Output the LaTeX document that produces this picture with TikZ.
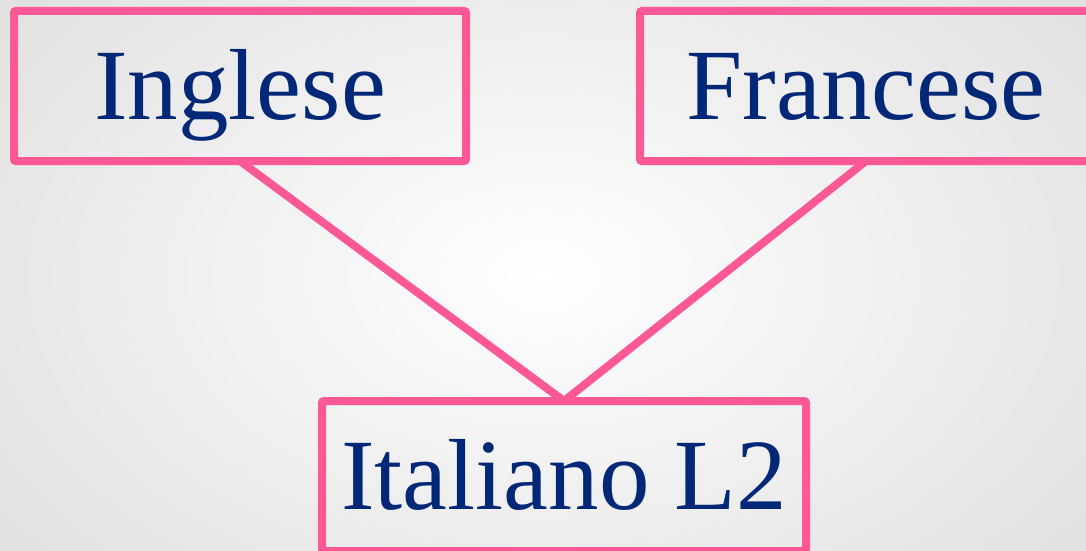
\documentclass[tikz,border=0pt]{standalone}
\usepackage{fontspec}
\setmainfont{Liberation Serif}
\definecolor{boxpink}{RGB}{255,88,150}
\definecolor{labelnavy}{RGB}{0,40,118}
\definecolor{bgedge}{RGB}{226,226,226}
\tikzset{
  langbox/.style={draw=boxpink, line width=8pt, rounded corners=2pt,
    inner sep=0pt, outer sep=0pt, minimum height=150pt,
    text=labelnavy, font=\fontsize{101}{120}\selectfont,
    text height=66pt, text depth=0pt},
  link/.style={draw=boxpink, line width=8pt}
}
\begin{document}
\begin{tikzpicture}[x=1pt,y=-1pt]
  \useasboundingbox (0,0) rectangle (1086,551);
  \clip (0,0) rectangle (1086,551);
  % soft radial background
  \shade[inner color=white, outer color=bgedge] (-120,-150) rectangle (1206,701);

  \node[langbox, minimum width=452pt] (ing) at (240,86) {Inglese};
  \node[langbox, minimum width=452pt] (fra) at (866,86) {Francese};
  \node[langbox, minimum width=484pt] (ita) at (564,476) {Italiano L2};

  \draw[link] (ing.south) -- (ita.north);
  \draw[link] (fra.south) -- (ita.north);
\end{tikzpicture}
\end{document}
